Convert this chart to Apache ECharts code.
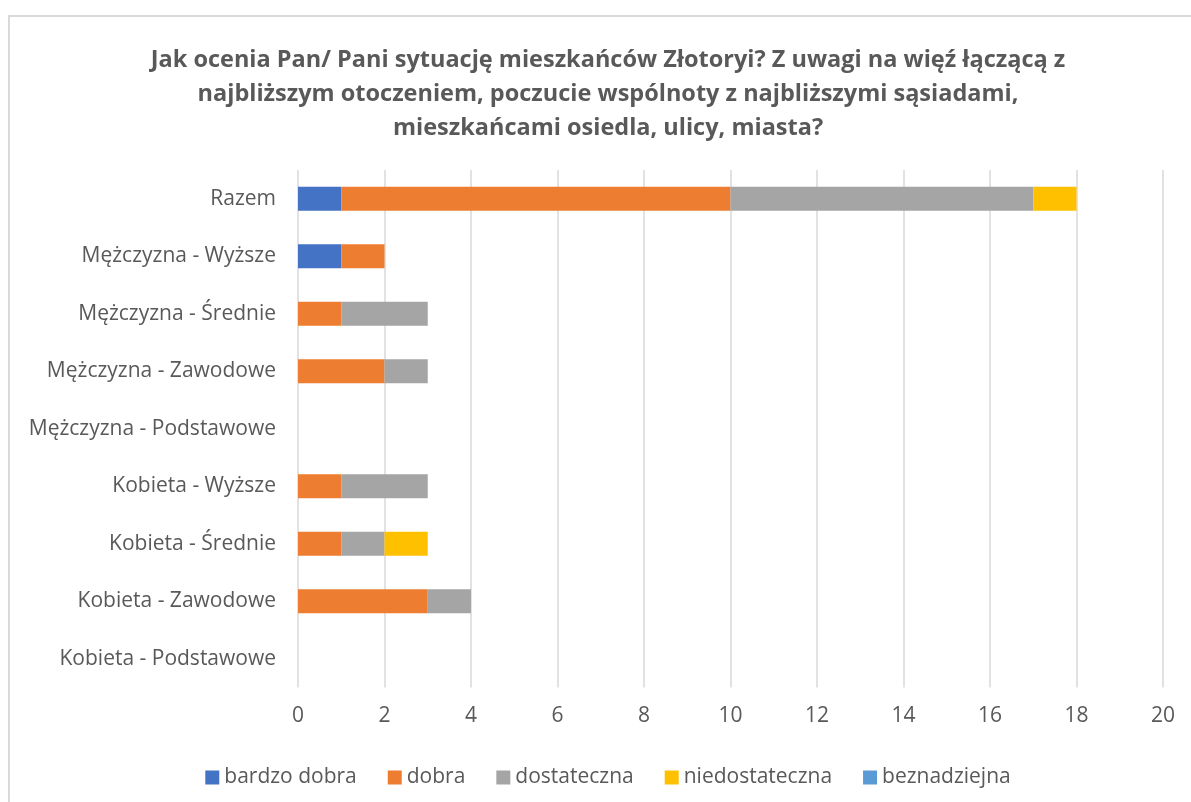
<!DOCTYPE html>
<html>
<head>
<meta charset="utf-8">
<script src="https://cdn.jsdelivr.net/npm/echarts@6/dist/echarts.min.js"></script>
<style>
  html, body { margin: 0; padding: 0; background: #fff; overflow: hidden; }
  #main {
    position: absolute;
    left: 8px;
    top: 15px;
    width: 1196px;
    height: 800px;
    border: 2px solid #d9d9d9;
  }
</style>
</head>
<body>
<div id="main"></div>
<script>
  // kategorie (od góry)
  const categories = [
    'Razem',
    'Mężczyzna - Wyższe',
    'Mężczyzna - Średnie',
    'Mężczyzna - Zawodowe',
    'Mężczyzna - Podstawowe',
    'Kobieta - Wyższe',
    'Kobieta - Średnie',
    'Kobieta - Zawodowe',
    'Kobieta - Podstawowe',
  ];
  const bardzoDobra    = [1, 1, 0, 0, 0, 0, 0, 0, 0];
  const dobra          = [9, 1, 1, 2, 0, 1, 1, 3, 0];
  const dostateczna    = [7, 0, 2, 1, 0, 2, 1, 1, 0];
  const niedostateczna = [1, 0, 0, 0, 0, 0, 1, 0, 0];
  const beznadziejna   = [0, 0, 0, 0, 0, 0, 0, 0, 0];

  const titleText =
    'Jak ocenia Pan/ Pani sytuację mieszkańców Złotoryi? Z uwagi na więź łączącą z\n' +
    'najbliższym otoczeniem, poczucie wspólnoty z najbliższymi sąsiadami,\n' +
    'mieszkańcami osiedla, ulicy, miasta?';

  const font = '"Open Sans", sans-serif';
  const textColor = '#595959';

  const chart = echarts.init(document.getElementById('main'));

  function bar(name, data, color) {
    return {
      name: name,
      type: 'bar',
      stack: 'total',
      data: data,
      barWidth: 24,
      itemStyle: { color: color },
      emphasis: { disabled: true },
    };
  }

  const option = {
    animation: false,
    title: {
      text: titleText,
      left: 'center',
      top: 21,
      textStyle: {
        fontFamily: font,
        fontWeight: 'bold',
        fontSize: 23.5,
        lineHeight: 34,
        color: textColor,
      },
    },
    legend: {
      left: 'center',
      top: 745,
      itemWidth: 14,
      itemHeight: 14,
      itemGap: 31,
      icon: 'rect',
      textStyle: { fontFamily: font, fontSize: 21, color: textColor },
      data: ['bardzo dobra', 'dobra', 'dostateczna', 'niedostateczna', 'beznadziejna'],
    },
    grid: {
      left: 288,
      top: 153,
      width: 865,
      height: 517.5,
      containLabel: false,
    },
    xAxis: {
      type: 'value',
      min: 0,
      max: 20,
      interval: 2,
      axisLine: { show: false },
      axisTick: { show: false },
      axisLabel: { fontFamily: font, fontSize: 21, color: textColor, margin: 18 },
      splitLine: { lineStyle: { color: '#d9d9d9', width: 1.5 } },
    },
    yAxis: {
      type: 'category',
      inverse: true,
      data: categories,
      axisLine: { show: false },
      axisTick: { show: false },
      axisLabel: { fontFamily: font, fontSize: 21, color: textColor, margin: 22 },
    },
    series: [
      bar('bardzo dobra', bardzoDobra, '#4472c4'),
      bar('dobra', dobra, '#ed7d31'),
      bar('dostateczna', dostateczna, '#a5a5a5'),
      bar('niedostateczna', niedostateczna, '#ffc000'),
      bar('beznadziejna', beznadziejna, '#5b9bd5'),
    ],
  };

  chart.setOption(option);
</script>
</body>
</html>
